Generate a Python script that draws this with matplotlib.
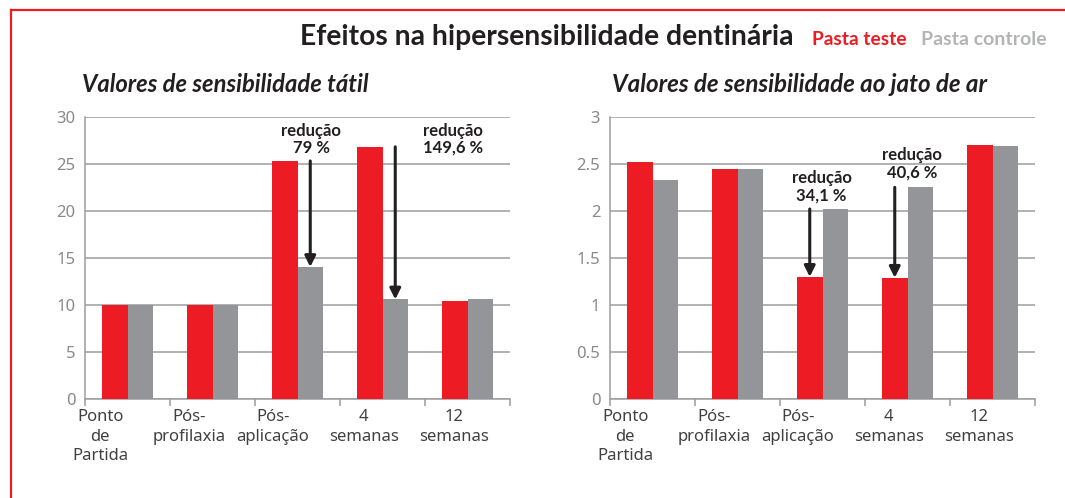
import matplotlib
matplotlib.use("Agg")
import matplotlib.pyplot as plt
from matplotlib.lines import Line2D
import numpy as np

# ---- data ----
categories = ["Ponto\nde\nPartida", "Pós-\nprofilaxia", "Pós-\naplicação", "4\nsemanas", "12\nsemanas"]
tatil_teste = [10.0, 10.0, 25.3, 26.8, 10.4]
tatil_controle = [10.0, 10.0, 14.05, 10.6, 10.6]
ar_teste = [2.52, 2.44, 1.30, 1.29, 2.70]
ar_controle = [2.33, 2.44, 2.02, 2.25, 2.69]
tatil_ticks = [0, 5, 10, 15, 20, 25, 30]
ar_ticks = [0, 0.5, 1, 1.5, 2, 2.5, 3]
ar_tick_labels = ["0", "0.5", "1", "1.5", "2", "2.5", "3"]

title = "Efeitos na hipersensibilidade dentinária"
legend_teste = "Pasta teste"
legend_controle = "Pasta controle"
sub_tatil = "Valores de sensibilidade tátil"
sub_ar = "Valores de sensibilidade ao jato de ar"
red_notes = ["redução\n79 %", "redução\n149,6 %"]
ar_notes = ["redução\n34,1 %", "redução\n40,6 %"]

RED = "#ED1C24"
GREY = "#939598"
GRID = "#9d9d9d"
DARK = "#231f20"
FONT = "Lato"
TICKFONT = "Noto Sans"

W, H = 1065, 498
fig = plt.figure(figsize=(W / 100, H / 100), dpi=100)

def fx(px):
    return px / W

def fy(py):
    return 1 - py / H

# red frame
fig.add_artist(Line2D([fx(11), fx(11)], [fy(10), 0], color=RED, lw=1.6, transform=fig.transFigure))
fig.add_artist(Line2D([fx(11), 1], [fy(10), fy(10)], color=RED, lw=1.6, transform=fig.transFigure))

# titles
fig.text(fx(300), fy(45), title, fontsize=20.3, fontweight="bold", family=FONT, color=DARK, va="baseline")
fig.text(fx(812), fy(45), legend_teste, fontsize=13.8, fontweight="bold", family=FONT, color=RED, va="baseline")
fig.text(fx(921), fy(45), legend_controle, fontsize=14, fontweight="bold", family=FONT, color="#b3b4b6", va="baseline")
fig.text(fx(82), fy(92), sub_tatil, fontsize=17.1, fontweight="bold", style="italic", family=FONT, color=DARK, va="baseline")
fig.text(fx(612), fy(92), sub_ar, fontsize=17.4, fontweight="bold", style="italic", family=FONT, color=DARK, va="baseline")

label_shift = [-0.32, -0.28, -0.29, -0.22, -0.16]
bw = 0.3
x = np.arange(len(categories))

def setup(ax, teste, controle, ticks, ticklabels, top):
    ax.bar(x - bw / 2, teste, width=bw, color=RED, zorder=3)
    ax.bar(x + bw / 2, controle, width=bw, color=GREY, zorder=3)
    ax.set_xlim(-0.5, len(categories) - 0.5)
    ax.set_ylim(0, top)
    ax.set_yticks(ticks)
    ax.set_yticklabels(ticklabels, family=TICKFONT, fontsize=12, color="#8a8a8a")
    ax.tick_params(axis="y", length=0, pad=7)
    ax.yaxis.grid(True, color=GRID, lw=1.1, zorder=0)
    ax.set_axisbelow(True)
    ax.set_xticks(np.arange(len(categories) + 1) - 0.5)
    ax.set_xticklabels([])
    ax.tick_params(axis="x", length=5, width=1.1, color=GRID, direction="out")
    for s in ["top", "right"]:
        ax.spines[s].set_visible(False)
    for s in ["left", "bottom"]:
        ax.spines[s].set_color(GRID)
        ax.spines[s].set_linewidth(1.1)
    for i, lab in enumerate(categories):
        ax.text(i + label_shift[i], -0.035 * top, lab, ha="center", va="top",
                family=TICKFONT, fontsize=12, color="#404040", linespacing=1.3,
                transform=ax.transData)

ax1 = fig.add_axes([fx(85), fy(399.3), fx(425), 282.6 / H])
setup(ax1, tatil_teste, tatil_controle, tatil_ticks, [str(t) for t in tatil_ticks], 30)
ax2 = fig.add_axes([fx(610), fy(399.3), fx(425), 282.6 / H])
setup(ax2, ar_teste, ar_controle, ar_ticks, ar_tick_labels, 3)

arrow = dict(arrowstyle="-|>", lw=2.2, color=DARK, mutation_scale=16, shrinkA=0, shrinkB=0)
# left panel: arrows from red top down to grey top over grey bar
for i in [2, 3]:
    ax1.annotate("", xy=(i + bw / 2, tatil_controle[i]), xytext=(i + bw / 2, tatil_teste[i]),
                 arrowprops=arrow, zorder=5)
ax1.text(2.16, 27.6, red_notes[0], ha="center", va="center", fontsize=12, fontweight="bold",
         family=FONT, color=DARK, linespacing=1.1)
ax1.text(3.83, 27.6, red_notes[1], ha="center", va="center", fontsize=12, fontweight="bold",
         family=FONT, color=DARK, linespacing=1.1)
# right panel: arrows from grey height down to red top over red bar
for i in [2, 3]:
    ax2.annotate("", xy=(i - bw / 2, ar_teste[i]), xytext=(i - bw / 2, ar_controle[i]),
                 arrowprops=arrow, zorder=5)
ax2.text(1.99, 2.26, ar_notes[0], ha="center", va="center", fontsize=12, fontweight="bold",
         family=FONT, color=DARK, linespacing=1.1)
ax2.text(3.05, 2.50, ar_notes[1], ha="center", va="center", fontsize=12, fontweight="bold",
         family=FONT, color=DARK, linespacing=1.1)

fig.savefig("out.png", dpi=100)
